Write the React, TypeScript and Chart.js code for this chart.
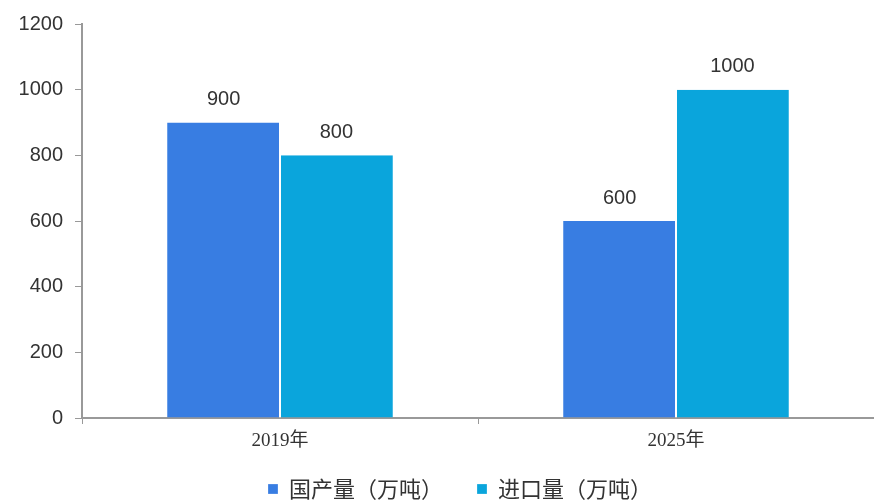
import React, { useEffect, useRef } from "react";
import { Chart, registerables } from "chart.js";

Chart.register(...registerables);

const categories = ["2019年", "2025年"];
const domesticOutput = [900, 600];
const importVolume = [800, 1000];
const seriesNames = ["国产量（万吨）", "进口量（万吨）"];
const yTicks = [0, 200, 400, 600, 800, 1000, 1200];

const barLabelPlugin = {
  id: "barLabels",
  afterDatasetsDraw(chart: any) {
    const ctx = chart.ctx;
    ctx.save();
    ctx.font = '20px "Liberation Sans", Arial, sans-serif';
    ctx.fillStyle = "#333333";
    ctx.textAlign = "center";
    ctx.textBaseline = "bottom";
    chart.data.datasets.forEach((ds: any, i: number) => {
      const meta = chart.getDatasetMeta(i);
      meta.data.forEach((bar: any, j: number) => {
        ctx.fillText(String(ds.data[j]), bar.x, bar.y - 13);
      });
    });
    ctx.restore();
  },
};

const legendPlacementPlugin = {
  id: "legendPlacement",
  beforeLayout(chart: any) {
    const lg = chart.legend;
    if (lg && !lg._patched) {
      const f = lg.fit.bind(lg);
      lg.fit = function () {
        f();
        this.height = 48;
      };
      lg._patched = true;
    }
  },
  afterLayout(chart: any) {
    const lg = chart.legend;
    if (lg) {
      lg.top -= 12;
      lg.left += 46;
    }
  },
};

export default function App() {
  const ref = useRef<HTMLCanvasElement | null>(null);
  useEffect(() => {
    document.body.style.margin = "0";
    const chart = new Chart(ref.current as HTMLCanvasElement, {
      type: "bar",
      data: {
        labels: categories,
        datasets: [
          {
            label: seriesNames[0],
            data: domesticOutput,
            backgroundColor: "#387de2",
            borderColor: "#ffffff",
            borderWidth: { right: 1 } as any,
            categoryPercentage: 0.57,
            barPercentage: 1,
          },
          {
            label: seriesNames[1],
            data: importVolume,
            backgroundColor: "#0aa5dc",
            borderColor: "#ffffff",
            borderWidth: { left: 1 } as any,
            categoryPercentage: 0.57,
            barPercentage: 1,
          },
        ],
      },
      options: {
        animation: false,
        responsive: false,
        maintainAspectRatio: false,
        layout: { padding: { top: 13, right: 0, left: 0, bottom: 0 } },
        plugins: {
          legend: {
            position: "bottom",
            labels: {
              boxWidth: 10,
              boxHeight: 10,
              color: "#333333",
              padding: 34,
              font: { size: 22, family: '"Noto Sans CJK SC", sans-serif' },
            },
          },
          tooltip: { enabled: false },
        },
        scales: {
          x: {
            grid: {
              display: true,
              drawOnChartArea: false,
              drawTicks: true,
              tickLength: 6,
              color: "#999999",
            },
            border: { display: true, color: "#999999", width: 2 },
            ticks: {
              color: "#333333",
              padding: 6,
              font: { size: 19, family: '"Liberation Serif", "Noto Sans CJK SC", serif' },
            },
            afterFit(scale: any) {
              scale.height = 38;
            },
          },
          y: {
            min: 0,
            max: 1200,
            afterBuildTicks(scale: any) {
              scale.ticks = yTicks.map((v) => ({ value: v }));
            },
            grid: {
              display: true,
              drawOnChartArea: false,
              drawTicks: true,
              tickLength: 7,
              color: "#999999",
            },
            border: { display: true, color: "#999999", width: 2 },
            ticks: {
              color: "#333333",
              padding: 12,
              font: { size: 20, family: '"Liberation Sans", Arial, sans-serif' },
              callback: (v: any) => String(v),
            },
            afterFit(scale: any) {
              scale.width = 82;
            },
          },
        },
      },
      plugins: [barLabelPlugin, legendPlacementPlugin],
    });
    return () => chart.destroy();
  }, []);
  return (
    <div style={{ position: "fixed", left: 0, top: 0, width: 874, height: 504, background: "#fff" }}>
      <canvas ref={ref} width={874} height={504} style={{ width: 874, height: 504 }} />
    </div>
  );
}
